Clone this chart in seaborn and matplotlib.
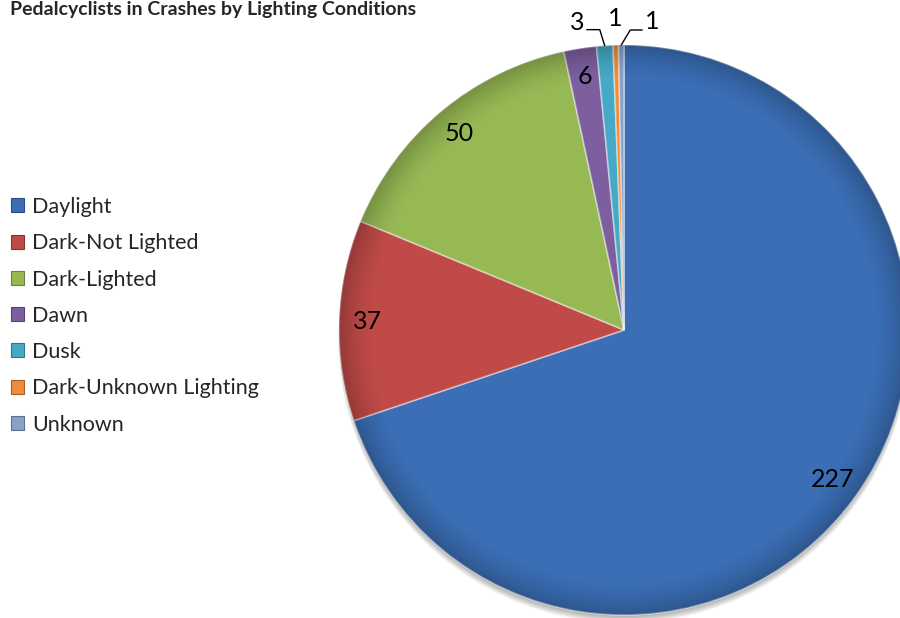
import numpy as np
import matplotlib
matplotlib.use("Agg")
import matplotlib.pyplot as plt
import seaborn as sns
from matplotlib.patches import Patch, Circle
from matplotlib.colors import to_rgb

categories = ["Daylight", "Dark-Not Lighted", "Dark-Lighted", "Dawn", "Dusk",
              "Dark-Unknown Lighting", "Unknown"]
values = [227, 37, 50, 6, 3, 1, 1]
colors = ["#3B6EB5", "#BF4A47", "#97B954", "#7D5FA0", "#46A9C6", "#F08C3A", "#8AA2C8"]
title = "Pedalcyclists in Crashes by Lighting Conditions"

sns.set_theme(style="white")
plt.rcParams['font.family'] = ['Lato', 'DejaVu Sans']

W, H = 900, 618
fig = plt.figure(figsize=(9, 6.18), dpi=100)
fig.patch.set_facecolor("white")
ax = fig.add_axes([0, 0, 1, 1])

cx, cy, R = 624, H - 330, 285

# soft shadow under pie (peeks out mostly at the bottom)
for k in range(6):
    ax.add_patch(Circle((cx, cy - 3 - k * 0.8), R - 1 + k * 0.4, facecolor="black",
                        alpha=0.05, lw=0, zorder=0))

wedges, _ = ax.pie(values, colors=colors, startangle=90, counterclock=False,
                   radius=R, center=(cx, cy),
                   wedgeprops=dict(edgecolor=(1, 1, 1, 0.45), linewidth=1.2))
for w in wedges:
    w.set_zorder(2)

# radial darkening near rim (bevel look)
n = 600
yy, xx = np.mgrid[-1:1:n * 1j, -1:1:n * 1j]
rr = np.sqrt(xx ** 2 + yy ** 2)
alpha = np.clip((rr - 0.88) / 0.12, 0, 1) ** 1.5 * 0.22
img = np.zeros((n, n, 4))
img[..., 3] = alpha
im = ax.imshow(img, extent=[cx - R, cx + R, cy - R, cy + R], zorder=3,
               interpolation="bilinear")
im.set_clip_path(Circle((cx, cy), R, transform=ax.transData))

ax.set_xlim(0, W)
ax.set_ylim(0, H)
ax.set_aspect('equal')
ax.axis('off')

label_fs = 18
# inside labels for the larger slices
for w, v in zip(wedges, values):
    th = np.deg2rad((w.theta1 + w.theta2) / 2)
    if v >= 6:
        ax.text(cx + 0.9 * R * np.cos(th), cy + 0.9 * R * np.sin(th), str(v),
                ha="center", va="center", fontsize=label_fs, color="black", zorder=5)

# outside labels for small slices: (text dx, dy, line points) relative to rim point
outside = {
    4: ((-28, 23), [(-18, 16), (-5, 16), (0, 0)]),
    5: ((-1, 27), None),
    6: ((31, 24), [(21, 15), (9, 15), (0, 0)]),
}
for i, (toff, line) in outside.items():
    w = wedges[i]
    th = np.deg2rad((w.theta1 + w.theta2) / 2)
    ex, ey = cx + R * np.cos(th), cy + R * np.sin(th)
    ax.text(ex + toff[0], ey + toff[1], str(values[i]), ha="center", va="center",
            fontsize=label_fs, color="black", zorder=5)
    if line:
        ax.plot([ex + p[0] for p in line], [ey + p[1] for p in line],
                color="black", lw=1, zorder=5)

handles = [Patch(facecolor=c, edgecolor=tuple(np.array(to_rgb(c)) * 0.7), linewidth=0.8)
           for c in colors]
fig.legend(handles, categories, loc="upper left", bbox_to_anchor=(11 / W, 1 - 197 / H),
           frameon=False, fontsize=15.5, handlelength=0.62, handleheight=0.62,
           handletextpad=0.35, labelspacing=0.755, borderpad=0, borderaxespad=0)

fig.text(10 / W, 1 - 9 / H, title, fontweight="bold", fontsize=14, ha="left",
         va="center")

fig.savefig("out.png", dpi=100)
